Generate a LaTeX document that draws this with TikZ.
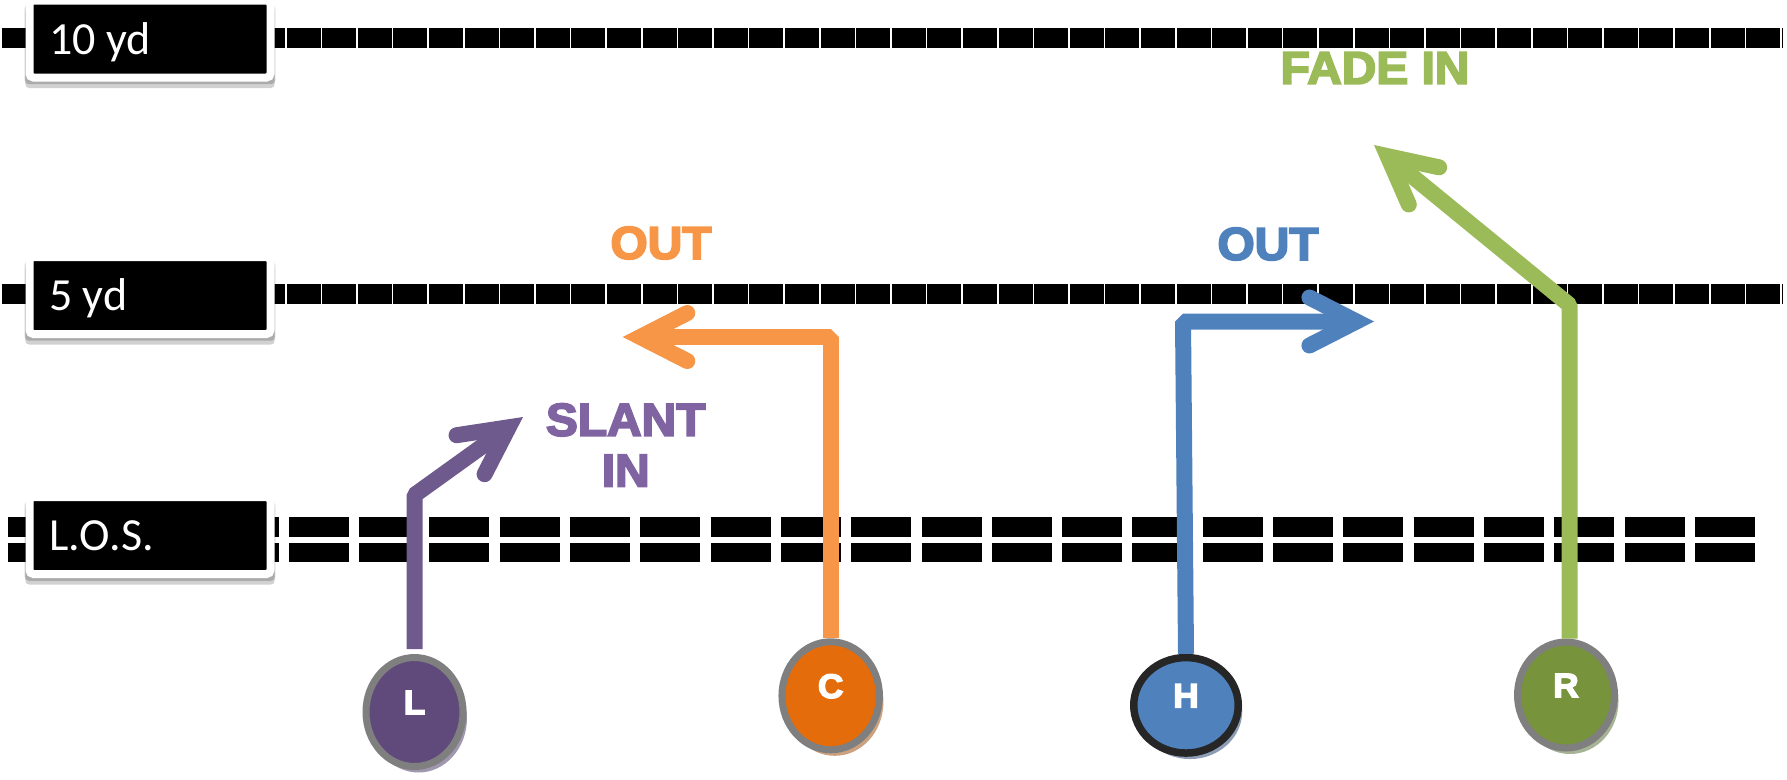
\documentclass[tikz,border=0pt]{standalone}
\usepackage{fontspec}
\newfontfamily\boxfont{Carlito}
\newfontfamily\routefont{Liberation Sans}[FakeBold=4, FakeStretch=1.04]
\usetikzlibrary{shapes.geometric, arrows.meta, shadows, positioning}

\definecolor{slantline}{HTML}{6E5A8C}
\definecolor{slanttext}{HTML}{8064A2}
\definecolor{slantfill}{HTML}{604A7B}
\definecolor{slantshade}{HTML}{A097AE}
\definecolor{outorange}{HTML}{F79646}
\definecolor{orangefill}{HTML}{E46C0A}
\definecolor{orangeshade}{HTML}{CBA17E}
\definecolor{outblue}{HTML}{4F81BD}
\definecolor{blueshade}{HTML}{8C9DB5}
\definecolor{fadegreen}{HTML}{9BBB59}
\definecolor{greenfill}{HTML}{77933C}
\definecolor{greenshade}{HTML}{A6B394}
\definecolor{ringgray}{HTML}{7F7F7F}
\definecolor{ringdark}{HTML}{262626}

\tikzset{
  yardline/.style={line width=19.5pt, dash pattern=on 34pt off 1.6pt},
  losline/.style={line width=19.5pt, dash pattern=on 60pt off 10.3pt},
  markerbox/.style={draw=white, line width=8pt, rounded corners=4pt, fill=black, text=white,
    font=\boxfont\fontsize{46}{50}\selectfont, execute at begin node={\spaceskip=10pt\relax},
    text width=201pt, inner xsep=20pt, inner ysep=0pt,
    minimum height=77pt, align=left, text height=30pt, text depth=0pt,
    drop shadow={shadow xshift=0pt, shadow yshift=-9pt, shadow scale=1.035, opacity=0.18, fill=black},
    drop shadow={shadow xshift=0pt, shadow yshift=-5pt, shadow scale=1.04, opacity=0.18, fill=black}},
  player/.style={ellipse, draw=ringgray, line width=7pt, inner sep=0pt, text=white,
    font=\routefont\bfseries\fontsize{34}{34}\selectfont, text height=24.3pt, text depth=20pt},
  pshadow/.style={drop shadow={shadow xshift=4pt, shadow yshift=-6pt, opacity=1, fill=#1}},
  route/.style={line width=16pt, line join=bevel,
    -{Straight Barb[length=47pt, width=48pt, line cap=round, line join=miter]}},
  routelabel/.style={font=\routefont\bfseries\fontsize{46}{50.7}\selectfont, align=center, inner sep=0pt}
}

\begin{document}
\begin{tikzpicture}[x=1pt, y=-1pt]
\useasboundingbox (0,0) rectangle (1787,779);
% field lines
\draw [yardline] (1.7,38) -- (1782,38);
\draw [yardline] (1.7,294) -- (1782,294);
\draw [losline] (7.6,527) -- (1755,527);
\draw [losline] (7.6,552.5) -- (1755,552.5);
% yard markers
\node (tenyd) [markerbox] at (150,39) {10 yd};
\node (fiveyd) [markerbox] at (150,295.5) {5 yd};
\node (los) [markerbox] at (150,535.5) {L.O.S.};
% players
\node (L) [player, fill=slantfill, pshadow=slantshade, minimum width=97pt, minimum height=109pt] at (414.5,712) {L};
\node (C) [player, fill=orangefill, pshadow=orangeshade, minimum width=97.5pt, minimum height=108pt] at (830.7,695.8) {C};
\node (H) [player, draw=ringdark, line width=7.5pt, fill=outblue, pshadow=blueshade, minimum width=104.5pt, minimum height=95.5pt] at (1186,705.3) {H};
\node (R) [player, fill=greenfill, pshadow=greenshade, minimum width=97pt, minimum height=106pt] at (1566,695) {R};
% routes
\coordinate (slantbreak) at (414.5,495);
\coordinate (slanttip) at (523,417);
\coordinate (cbreak) at (830.7,337);
\coordinate (ctip) at (622.7,337);
\coordinate (hbreak) at (1183,321.5);
\coordinate (htip) at (1374,321.5);
\coordinate (fadebreak) at (1569.5,305);
\coordinate (fadetip) at (1374,145);
\draw [route, slantline, shorten <=5pt] (L.north) -- (slantbreak) -- (slanttip);
\draw [route, outorange] (C.north) -- (cbreak) -- (ctip);
\draw [route, outblue] (H.north) -- (hbreak) -- (htip);
\draw [route, fadegreen] (R.north -| fadebreak) -- (fadebreak) -- (fadetip);
% route names
\node (slantlabel) [routelabel, text=slanttext] at (625.7,445) {SLANT\\IN};
\node (outleft) [routelabel, text=outorange] at (661,243) {OUT};
\node (outright) [routelabel, text=outblue] at (1268,244) {OUT};
\node (fadelabel) [routelabel, text=fadegreen] at (1375,68) {FADE IN};
\end{tikzpicture}
\end{document}
